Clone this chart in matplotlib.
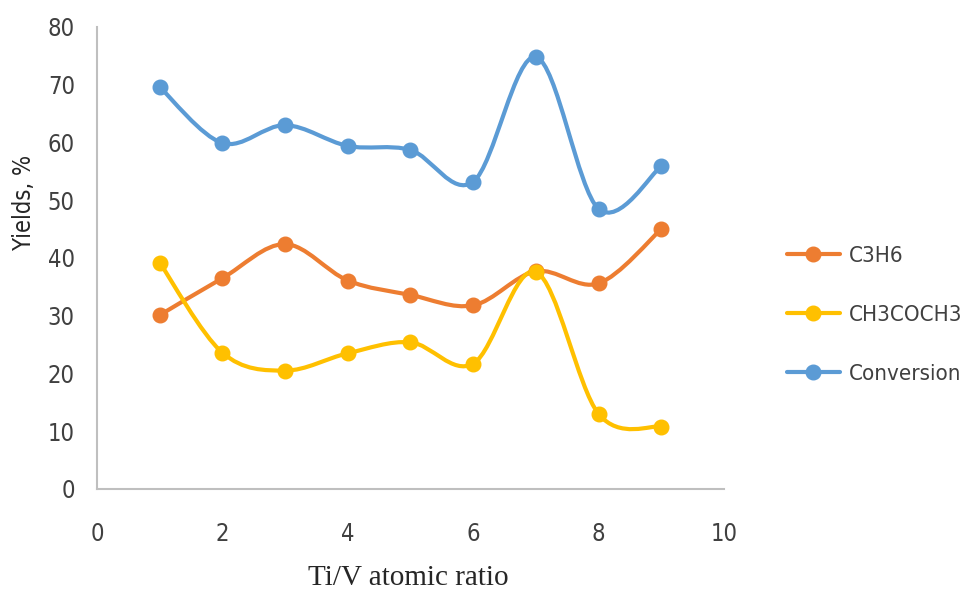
import matplotlib
matplotlib.use("Agg")
import matplotlib.pyplot as plt
from matplotlib.path import Path
from matplotlib.patches import PathPatch
from matplotlib.lines import Line2D
from matplotlib.font_manager import FontProperties

x = [1, 2, 3, 4, 5, 6, 7, 8, 9]
c3h6 = [30.1, 36.5, 42.4, 36.1, 33.6, 31.8, 37.7, 35.6, 45.0]
ch3coch3 = [39.2, 23.6, 20.5, 23.5, 25.4, 21.7, 37.6, 13.0, 10.8]
conversion = [69.6, 59.9, 63.0, 59.4, 58.7, 53.2, 74.8, 48.5, 55.9]
series_names = ["C3H6", "CH3COCH3", "Conversion"]
colors = ["#ED7D31", "#FFC000", "#5B9BD5"]
xticks = [0, 2, 4, 6, 8, 10]
yticks = [0, 10, 20, 30, 40, 50, 60, 70, 80]

tick_fp = FontProperties(family="DejaVu Sans", stretch="condensed", size=17)
leg_fp = FontProperties(family="DejaVu Sans", stretch="condensed", size=16)

fig = plt.figure(figsize=(9.67, 5.93), dpi=100)
ax = fig.add_axes([0.1003, 0.1754, 0.6484, 0.7791])

def smooth_path(xs, ys):
    n = len(xs)
    verts = [(xs[0], ys[0])]
    codes = [Path.MOVETO]
    for i in range(n - 1):
        x0, y0 = (xs[i - 1], ys[i - 1]) if i > 0 else (xs[i], ys[i])
        x1, y1 = xs[i], ys[i]
        x2, y2 = xs[i + 1], ys[i + 1]
        x3, y3 = (xs[i + 2], ys[i + 2]) if i + 2 < n else (x2, y2)
        c1 = (x1 + (x2 - x0) / 6.0, y1 + (y2 - y0) / 6.0)
        c2 = (x2 - (x3 - x1) / 6.0, y2 - (y3 - y1) / 6.0)
        verts += [c1, c2, (x2, y2)]
        codes += [Path.CURVE4] * 3
    return Path(verts, codes)

handles = []
for ys, col, name in zip([c3h6, ch3coch3, conversion], colors, series_names):
    patch = PathPatch(smooth_path(x, ys), facecolor="none", edgecolor=col,
                      lw=3.0, capstyle="round", joinstyle="round", zorder=2)
    ax.add_patch(patch)
    ax.plot(x, ys, linestyle="none", marker="o", markersize=10.5,
            color=col, zorder=3)
    handles.append(Line2D([0], [0], color=col, lw=3.0, marker="o",
                          markersize=10.5, solid_capstyle="round"))

ax.set_xlim(0, 10)
ax.set_ylim(0, 80)
ax.set_xticks(xticks)
ax.set_yticks(yticks)
ax.set_xticklabels([str(v) for v in xticks])
ax.set_yticklabels([str(v) for v in yticks])
for s in ["top", "right"]:
    ax.spines[s].set_visible(False)
for s in ["left", "bottom"]:
    ax.spines[s].set_color("#BFBFBF")
    ax.spines[s].set_linewidth(1.5)
ax.tick_params(axis="both", length=0, labelcolor="#404040")
ax.tick_params(axis="x", pad=24)
ax.tick_params(axis="y", pad=16)
for lab in ax.get_xticklabels() + ax.get_yticklabels():
    lab.set_fontproperties(tick_fp)

ax.set_ylabel("Yields, %", color="#262626", fontproperties=tick_fp)
ax.yaxis.set_label_coords(-0.098, 0.62)
ax.set_xlabel("Ti/V atomic ratio", fontsize=21, color="#262626",
              fontfamily="Liberation Serif")
ax.xaxis.set_label_coords(0.497, -0.165)

leg = fig.legend(handles, series_names, loc="center left",
                 bbox_to_anchor=(0.793, 0.469), frameon=False,
                 prop=leg_fp, labelcolor="#404040",
                 handlelength=2.4, handletextpad=0.4, labelspacing=1.75)

fig.savefig("out.png", dpi=100, facecolor="white")
